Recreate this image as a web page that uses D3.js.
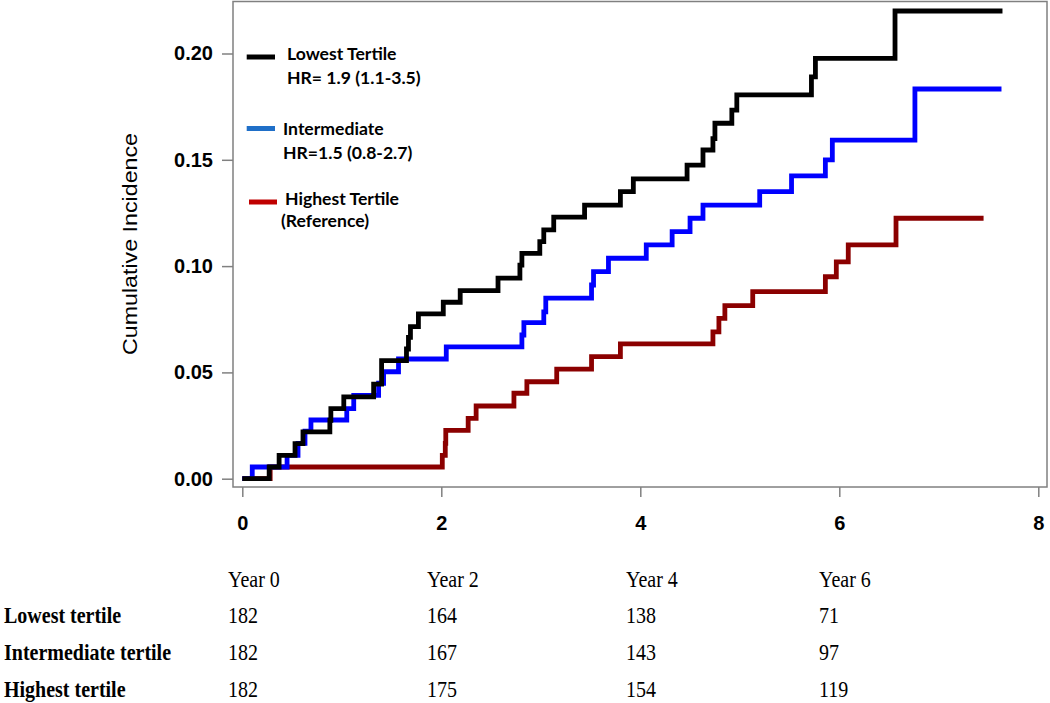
<!DOCTYPE html>
<html>
<head>
<meta charset="utf-8">
<script src="https://cdn.jsdelivr.net/npm/d3@7"></script>
<style>
  html, body { margin: 0; padding: 0; background: #ffffff; }
  svg { display: block; }
</style>
</head>
<body>
<svg id="chart" width="1050" height="703"></svg>
<script>
// ---------------- DATA ----------------
// Lowest tertile (black)
const lowTime = [0, 0.27, 0.37, 0.53, 0.61, 0.88, 0.89, 1.02, 1.32, 1.40, 1.65, 1.67, 1.69, 1.77, 2.02, 2.19, 2.57, 2.79, 2.81, 2.99, 3.03, 3.13, 3.44, 3.80, 3.93, 4.47, 4.63, 4.73, 4.75, 4.92, 4.97, 5.72, 5.76, 6.56, 7.64];
const lowCI   = [0, 0.0055, 0.011, 0.0165, 0.022, 0.0275, 0.033, 0.0385, 0.0445, 0.0555, 0.061, 0.0665, 0.0715, 0.0775, 0.083, 0.0885, 0.0943, 0.1005, 0.106, 0.1115, 0.117, 0.123, 0.1287, 0.135, 0.141, 0.1475, 0.1546, 0.160, 0.1672, 0.1734, 0.1805, 0.189, 0.1977, 0.220, 0.220];
// Intermediate tertile (blue)
const midTime = [0, 0.10, 0.45, 0.56, 0.63, 0.69, 1.05, 1.12, 1.37, 1.42, 1.57, 2.05, 2.81, 2.83, 3.03, 3.05, 3.51, 3.53, 3.68, 4.06, 4.32, 4.50, 4.63, 5.20, 5.52, 5.86, 5.93, 6.76, 7.63];
const midCI   = [0, 0.0055, 0.011, 0.0166, 0.0224, 0.0276, 0.033, 0.0392, 0.0449, 0.0503, 0.0563, 0.062, 0.0676, 0.0734, 0.0785, 0.0849, 0.0911, 0.0974, 0.1037, 0.110, 0.1162, 0.1225, 0.1287, 0.135, 0.1424, 0.150, 0.1593, 0.1833, 0.1833];
// Highest tertile (dark red)
const highTime = [0, 0.28, 2.01, 2.04, 2.045, 2.27, 2.35, 2.73, 2.86, 3.16, 3.51, 3.80, 4.73, 4.79, 4.85, 5.13, 5.86, 5.97, 6.09, 6.57, 7.45];
const highCI   = [0, 0.0055, 0.011, 0.0166, 0.0227, 0.0284, 0.0342, 0.0402, 0.0456, 0.0515, 0.0574, 0.0634, 0.0691, 0.0754, 0.0814, 0.088, 0.095, 0.102, 0.110, 0.1225, 0.1225];

const seriesNames = ["Highest Tertile", "Intermediate", "Lowest Tertile"];
const xTicks = [0, 2, 4, 6, 8];
const yTicks = [0, 0.05, 0.10, 0.15, 0.20];

// Legend text
const legendLines = [
  ["Lowest Tertile", "HR= 1.9 (1.1-3.5)"],
  ["Intermediate", "HR=1.5 (0.8-2.7)"],
  ["Highest Tertile", "(Reference)"]
];

// Number at risk table
const riskYears = ["Year 0", "Year 2", "Year 4", "Year 6"];
const riskGroups = ["Lowest tertile", "Intermediate tertile", "Highest tertile"];
const riskLow  = [182, 164, 138, 71];
const riskMid  = [182, 167, 143, 97];
const riskHigh = [182, 175, 154, 119];

// ---------------- DRAW ----------------
const svg = d3.select("#chart");

const x = d3.scaleLinear().domain([0, 8]).range([242.3, 1038.3]);
const y = d3.scaleLinear().domain([0, 0.20]).range([478.7, 53.5]);

const frame = { left: 233, right: 1047, top: 1.5, bottom: 487 };
const gray = "#808080";

// frame
svg.append("rect")
  .attr("x", frame.left).attr("y", frame.top)
  .attr("width", frame.right - frame.left)
  .attr("height", frame.bottom - frame.top)
  .attr("fill", "none").attr("stroke", gray).attr("stroke-width", 1.5);

// x axis
const gx = svg.append("g")
  .attr("transform", `translate(0,${frame.bottom})`)
  .call(d3.axisBottom(x).tickValues(xTicks).tickFormat(d3.format("d"))
    .tickSize(10).tickSizeOuter(0).tickPadding(19));
gx.select(".domain").remove();
gx.selectAll(".tick line").attr("stroke", gray).attr("stroke-width", 1.5);
gx.selectAll(".tick text")
  .attr("font-family", "'Liberation Sans', Arial, sans-serif")
  .attr("font-weight", "bold").attr("font-size", 20).attr("fill", "#000");

// y axis
const gy = svg.append("g")
  .attr("transform", `translate(${frame.left},0)`)
  .call(d3.axisLeft(y).tickValues(yTicks).tickFormat(d3.format(".2f"))
    .tickSize(11).tickSizeOuter(0).tickPadding(9));
gy.select(".domain").remove();
gy.selectAll(".tick line").attr("stroke", gray).attr("stroke-width", 1.5);
gy.selectAll(".tick text")
  .attr("font-family", "'Liberation Sans', Arial, sans-serif")
  .attr("font-weight", "bold").attr("font-size", 20).attr("fill", "#000");

// y axis title
svg.append("text")
  .attr("transform", "translate(137,244) rotate(-90)")
  .attr("text-anchor", "middle")
  .attr("font-family", "'Liberation Sans', Arial, sans-serif")
  .attr("font-size", 20)
  .attr("textLength", 222).attr("lengthAdjust", "spacingAndGlyphs")
  .attr("fill", "#000")
  .text("Cumulative Incidence");

// curves
const line = d3.line()
  .x(d => x(d[0]))
  .y(d => y(d[1]))
  .curve(d3.curveStepAfter);

const curves = [
  { t: highTime, v: highCI, color: "#8b0000" },
  { t: midTime, v: midCI, color: "#0000ff" },
  { t: lowTime, v: lowCI, color: "#000000" }
];
curves.forEach(c => {
  const pts = c.t.map((t, i) => [t, c.v[i]]);
  svg.append("path")
    .datum(pts)
    .attr("d", line)
    .attr("fill", "none")
    .attr("stroke", c.color)
    .attr("stroke-width", 4.8)
    .attr("stroke-linejoin", "miter")
    .attr("stroke-linecap", "butt");
});

// legend
const legendSwatch = [
  { x1: 246.7, x2: 275, y: 57, color: "#000000", tx: 287, ty: [60, 84] },
  { x1: 246.7, x2: 275, y: 128.5, color: "#1f6fc8", tx: 283, ty: [135, 159] },
  { x1: 249, x2: 277, y: 202, color: "#c00000", tx: 285, ty: [205, 227] }
];
legendSwatch.forEach((s, i) => {
  svg.append("line")
    .attr("x1", s.x1).attr("x2", s.x2).attr("y1", s.y).attr("y2", s.y)
    .attr("stroke", s.color).attr("stroke-width", 5);
  legendLines[i].forEach((txt, j) => {
    svg.append("text")
      .attr("x", j === 1 && i === 2 ? s.tx - 4 : s.tx)
      .attr("y", s.ty[j])
      .attr("font-family", "Lato, 'Open Sans', sans-serif")
      .attr("font-weight", "bold")
      .attr("font-size", 17.6)
      .attr("fill", "#000")
      .text(txt);
  });
});

// number-at-risk table
const tableFont = "'Liberation Serif', 'Times New Roman', serif";
const colX = [228, 427, 626, 819];
const rowY = [622.7, 660, 696.7];
riskYears.forEach((yr, i) => {
  svg.append("text")
    .attr("transform", `translate(${colX[i]},586.7) scale(1,1.12)`)
    .attr("font-family", tableFont).attr("font-size", 20).attr("fill", "#000")
    .text(yr);
});
const riskRows = [riskLow, riskMid, riskHigh];
riskGroups.forEach((g, r) => {
  svg.append("text")
    .attr("transform", `translate(4,${rowY[r]}) scale(1,1.12)`)
    .attr("font-family", tableFont).attr("font-weight", "bold")
    .attr("font-size", 20).attr("fill", "#000")
    .text(g);
  riskRows[r].forEach((n, i) => {
    svg.append("text")
      .attr("transform", `translate(${colX[i]},${rowY[r]}) scale(1,1.12)`)
      .attr("font-family", tableFont).attr("font-size", 20).attr("fill", "#000")
      .text(n);
  });
});
</script>
</body>
</html>
